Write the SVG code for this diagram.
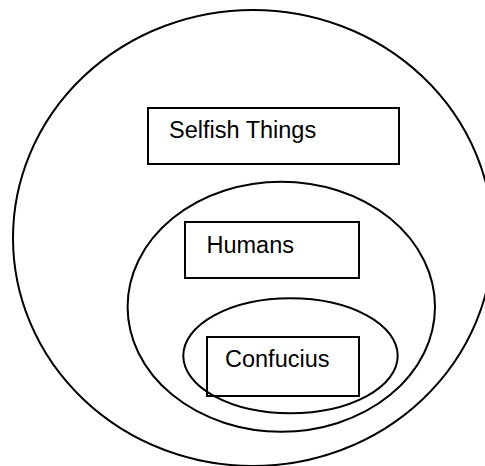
<svg xmlns="http://www.w3.org/2000/svg" width="485" height="466" viewBox="0 0 485 466">
<style>
.s{fill:none;stroke:#000;stroke-width:2}
.t{font-family:"Liberation Sans",Arial,sans-serif;font-size:23.5px;fill:#000}
</style>
<rect width="485" height="466" fill="#fff"/>
<g id="outer"><ellipse class="s" cx="253" cy="238" rx="240" ry="228"/></g>
<g id="selfish"><rect class="s" x="148" y="108" width="251" height="56"/><text class="t" x="169" y="138">Selfish Things</text></g>
<g id="humans-set"><ellipse class="s" cx="281.3" cy="306.7" rx="153.7" ry="125"/></g>
<g id="humans"><rect class="s" x="185" y="222" width="174" height="56"/><text class="t" x="206.5" y="253">Humans</text></g>
<g id="confucius-set"><ellipse class="s" cx="290.5" cy="355.8" rx="107.2" ry="57.5"/></g>
<g id="confucius"><rect class="s" x="207" y="337" width="152" height="59"/><text class="t" x="225" y="366.5">Confucius</text></g>
<g id="connectors"/>
</svg>
